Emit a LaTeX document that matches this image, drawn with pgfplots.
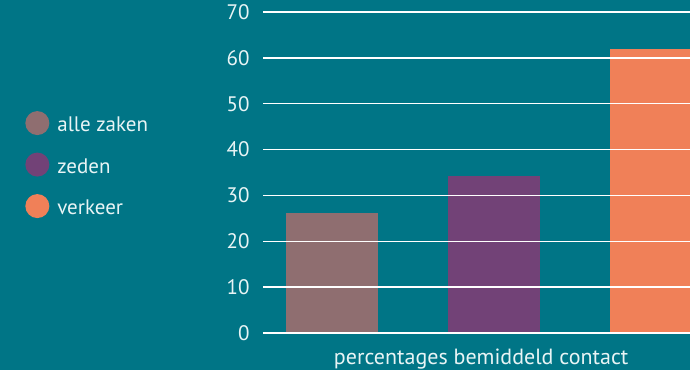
\documentclass[border=0pt]{standalone}
\usepackage{pgfplots}
\pgfplotsset{compat=1.18}
\usepackage{fontspec}
\setmainfont{PT Sans}
\definecolor{bgteal}{RGB}{0,117,134}
\definecolor{cA}{RGB}{143,110,112}
\definecolor{cB}{RGB}{114,66,119}
\definecolor{cC}{RGB}{240,128,88}
\definecolor{txt}{RGB}{232,244,245}
\begin{document}
\begin{tikzpicture}[x=1pt,y=1pt]
\fill[bgteal] (0,0) rectangle (690,370);
\begin{axis}[
  at={(263pt,37pt)}, anchor=south west,
  scale only axis, width=427pt, height=321pt,
  xmin=-0.426, xmax=2.21, ymin=0, ymax=70,
  ytick={0,10,...,70},
  xtick=\empty,
  axis line style={draw=none},
  major tick style={draw=none},
  ymajorgrids, grid style={white, line width=1.4pt},
  axis on top,
  font=\fontsize{21}{24}\selectfont,
  /pgf/number format/assume math mode=true,
  yticklabel style={text=txt, xshift=-10pt},
  xlabel={percentages bemiddeld contact},
  xlabel style={at={(axis description cs:0.511,0)}, anchor=north, yshift=-16pt, inner sep=0pt, text=txt, font=\fontsize{22}{24}\selectfont},
  ybar, bar width=0.568, bar shift=0pt,
  legend style={at={(-0.557,0.692)}, anchor=north west, draw=none, fill=none, inner sep=0pt,
    text=txt, row sep=15pt, column sep=0pt,
    nodes={inner sep=2pt, text height=15pt, text depth=4pt}},
  legend cell align=left,
  legend image code/.code={\fill[#1] (12pt,0.3em) circle (12pt); \path (0pt,0.3em) (30pt,0.3em);},
]
\addplot[fill=cA, draw=none] coordinates {(0,26.2)};
\addlegendentry{alle zaken}
\addplot[fill=cB, draw=none] coordinates {(1,34.2)};
\addlegendentry{zeden}
\addplot[fill=cC, draw=none] coordinates {(2,62)};
\addlegendentry{verkeer}
\end{axis}
\pgfresetboundingbox
\path[use as bounding box] (0,0) rectangle (690,370);
\end{tikzpicture}
\end{document}
